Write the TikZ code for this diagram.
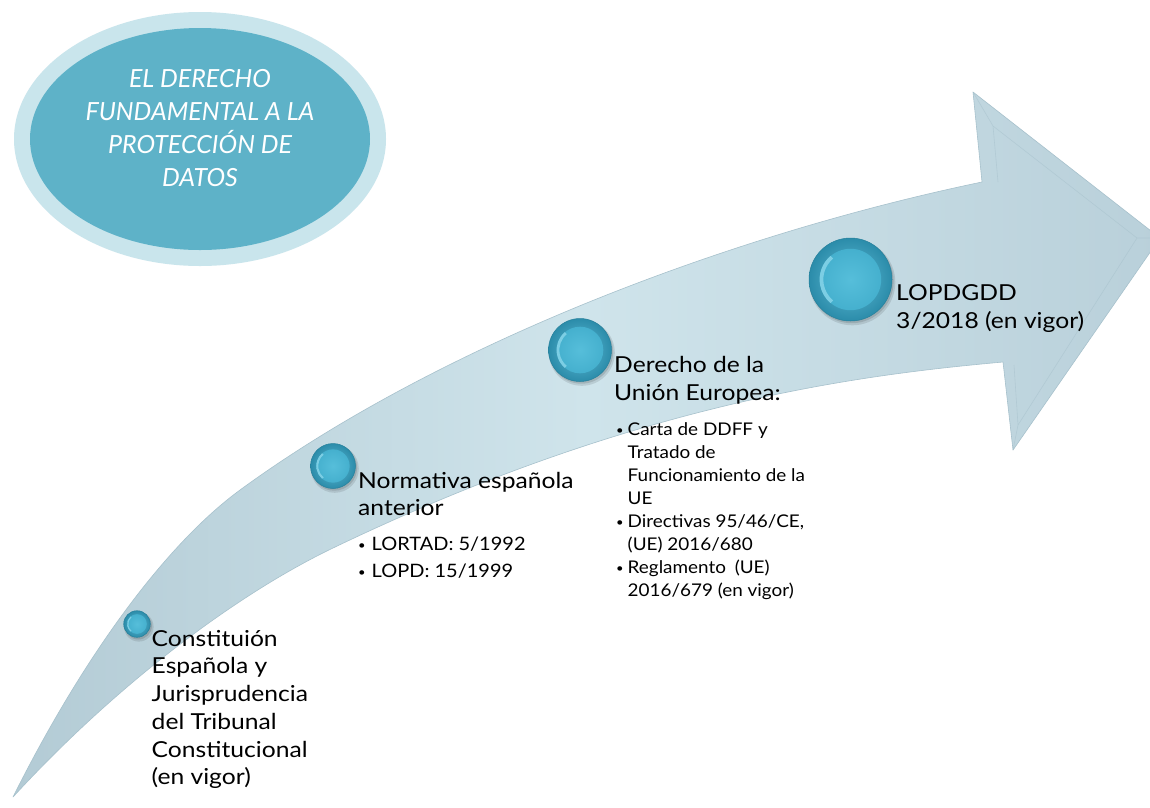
\documentclass[tikz,border=0pt]{standalone}
\usepackage{fontspec}
\setmainfont{Lato}
\newfontfamily\gillish[FakeStretch=1.12]{Lato}
\newfontfamily\gillsmall[FakeStretch=1.08]{Lato}
\usetikzlibrary{shapes.geometric}
\definecolor{arrL}{HTML}{B3CBD5}
\definecolor{arrM}{HTML}{CFE4EB}
\definecolor{arrR}{HTML}{B9D0DA}
\definecolor{arrE}{HTML}{A7C1CC}
\definecolor{ellOut}{HTML}{C9E5EC}
\definecolor{ellIn}{HTML}{5EB2C8}
\definecolor{beadOut}{HTML}{2B8CAA}
\definecolor{beadMid}{HTML}{45B0CE}
\definecolor{beadIn}{HTML}{56BEDA}
\definecolor{beadRim}{HTML}{8AD6EA}
\definecolor{beadEdge}{HTML}{26809B}
\newcommand\tealbead[4]{%
  \fill[black, opacity=0.10] (#2+1.8,#3+2.8) circle[radius={#4pt+1.5pt}];
  \fill[black, opacity=0.12] (#2+1.2,#3+1.8) circle[radius={#4pt+0.4pt}];
  \node[bead, minimum size={2*#4pt}] (#1) at (#2,#3) {};
  \shade[inner color=beadIn, outer color=beadMid] (#1.center) circle[radius={0.74*#4pt}];
  \draw[beadRim, line width={0.09*#4pt}, opacity=0.8] (#1.center) ++(130:{0.70*#4pt}) arc[start angle=130, end angle=230, radius={0.70*#4pt}];
}
\newcommand\smallbul{\raisebox{0.9pt}{\fontsize{12}{12}\selectfont\textbullet}}
\tikzset{
  bead/.style={circle, inner sep=0pt, draw=beadEdge, line width=0.5pt, inner color=beadMid!85!white, outer color=beadOut},
  headtext/.style={anchor=base west, inner sep=0pt, text=black},
  titletext/.style={anchor=base, inner sep=0pt, text=white, font=\fontsize{25}{33.3}\selectfont\itshape},
}
\begin{document}
\begin{tikzpicture}[x=1pt,y=-1pt]
\useasboundingbox (0,0) rectangle (1150,807);
\fill[white] (0,0) rectangle (1150,807);

% curved arrow
\shade[left color=arrL, right color=arrR, middle color=arrM, draw=arrE, line width=0.6pt, line join=round]
  (13,797) .. controls (83,657) and (165,545) .. (240,490)
  .. controls (440,344) and (732,234) .. (982,182)
  -- (973,92) -- (1160,238) -- (1013,450) -- (1003,362)
  .. controls (853,375.5) and (633,404) .. (333,548)
  .. controls (233,596) and (113,688) .. (13,797)
  -- cycle;
% bevel of the head
\draw[arrE, opacity=0.55, line width=0.6pt, line join=round]
  (973,92) -- (993,126) -- (998,182)
  (993,126) -- (1137,238) -- (1018,425) -- (1013,450)
  (1018,425) -- (1014,365)
  (1160,238) -- (1137,238);

% title ellipse
\node[ellipse, minimum width=372pt, minimum height=254pt, inner sep=0pt, fill=ellOut] (ellout) at (200,139) {};
\node[ellipse, minimum width=340pt, minimum height=222pt, inner sep=0pt, fill=ellIn] (ellin) at (ellout.center) {};
\node[titletext] (title) at (200,87) {\begin{tabular}[t]{@{}c@{}}EL DERECHO\\FUNDAMENTAL A LA\\PROTECCIÓN DE\\DATOS\end{tabular}};

% beads
\tealbead{c1}{137}{624}{13.3}
\tealbead{c2}{333}{466}{22.5}
\tealbead{c3}{580}{350}{31.5}
\tealbead{c4}{850.5}{279.5}{41.5}

% texts
\node[headtext, font=\gillish\fontsize{22}{27.75}\selectfont] (t1) at (151.5,646)
  {\begin{tabular}[t]{@{}l@{}}Constituión\\Española y\\Jurisprudencia\\del Tribunal\\Constitucional\\(en vigor)\end{tabular}};

\node[headtext, font=\gillish\fontsize{22}{27}\selectfont] (t2) at (358,488)
  {\begin{tabular}[t]{@{}l@{}}Normativa española\\anterior\end{tabular}};
\node[headtext, font=\gillsmall\fontsize{18.5}{27}\selectfont] (b2) at (358,550)
  {\begin{tabular}[t]{@{}l@{\hspace{6pt}}l@{}}\smallbul & LORTAD: 5/1992\\\smallbul & LOPD: 15/1999\end{tabular}};

\node[headtext, font=\gillish\fontsize{22}{28}\selectfont] (t3) at (614,372)
  {\begin{tabular}[t]{@{}l@{}}Derecho de la\\Unión Europea:\end{tabular}};
\node[headtext, font=\gillsmall\fontsize{17.5}{23.1}\selectfont] (b3) at (616,435)
  {\begin{tabular}[t]{@{}l@{\hspace{4pt}}l@{}}\smallbul & Carta de DDFF y\\ & Tratado de\\ & Funcionamiento de la\\ & UE\\\smallbul & Directivas 95/46/CE,\\ & (UE) 2016/680\\\smallbul & Reglamento\enspace(UE)\\ & 2016/679 (en vigor)\end{tabular}};

\node[headtext, font=\gillish\fontsize{22}{28}\selectfont] (t4) at (896,300)
  {\begin{tabular}[t]{@{}l@{}}LOPDGDD\\3/2018 (en vigor)\end{tabular}};
\end{tikzpicture}
\end{document}
